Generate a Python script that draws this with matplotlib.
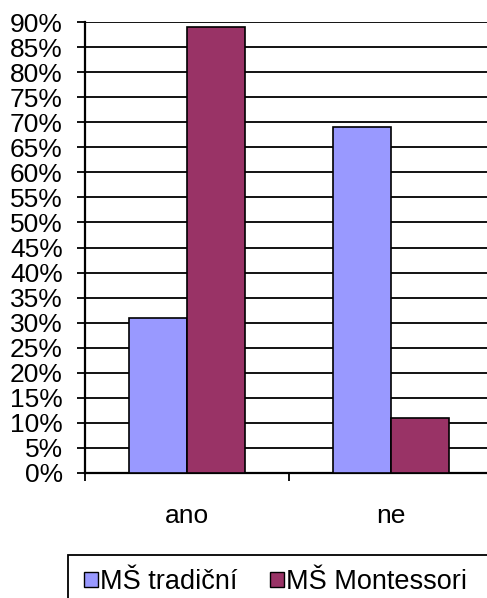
import matplotlib.pyplot as plt
import matplotlib.patches as mpatches
import numpy as np

plt.rcParams['font.family'] = ['Liberation Sans', 'DejaVu Sans']

categories = ["ano", "ne"]
series_names = ["MŠ tradiční", "MŠ Montessori"]
tradicni = [31, 69]
montessori = [89, 11]
colors = ["#9999FF", "#993366"]

W, H = 487, 598
fig = plt.figure(figsize=(W / 100, H / 100), dpi=100)
ax = fig.add_axes([85 / W, (H - 473) / H, 408 / W, 451 / H])

x = np.arange(len(categories))
bw = 0.285
ax.bar(x - bw / 2, tradicni, bw, color=colors[0], edgecolor="black", linewidth=1.2, zorder=3)
ax.bar(x + bw / 2, montessori, bw, color=colors[1], edgecolor="black", linewidth=1.2, zorder=3)

ax.set_xlim(-0.5, 1.5)
ax.set_ylim(0, 90)
ax.set_yticks(np.arange(0, 91, 5))
ax.set_yticklabels([f"{v}%" for v in range(0, 91, 5)], fontsize=19)
ax.yaxis.grid(True, color="black", linewidth=1.3, zorder=0)
ax.set_axisbelow(True)

ax.set_xticks([-0.5, 0.5, 1.5], minor=True)
ax.set_xticks(x)
ax.set_xticklabels(categories, fontsize=19)
ax.tick_params(axis="x", which="major", length=0, pad=22)
ax.tick_params(axis="x", which="minor", length=6, width=1.3, direction="out")
ax.tick_params(axis="y", length=6, width=1.3, direction="out", pad=10)

for side in ("top", "right"):
    ax.spines[side].set_visible(False)
for side in ("left", "bottom"):
    ax.spines[side].set_linewidth(1.6)

# legend frame runs off the right and bottom edges
fig.patches.append(mpatches.Rectangle((68 / W, -0.1), 1, (H - 555) / H + 0.1,
                                      transform=fig.transFigure, fill=False,
                                      edgecolor="black", linewidth=1.3))
handles = [mpatches.Patch(facecolor=c, edgecolor="black", linewidth=1) for c in colors]
fig.legend(handles, series_names, loc="center left",
           bbox_to_anchor=(84 / W, (H - 582) / H), ncol=2, frameon=False,
           fontsize=19.5, handlelength=0.5, handleheight=0.5,
           handletextpad=0.1, columnspacing=1.2, borderaxespad=0, borderpad=0)

fig.savefig("out.png", dpi=100)
